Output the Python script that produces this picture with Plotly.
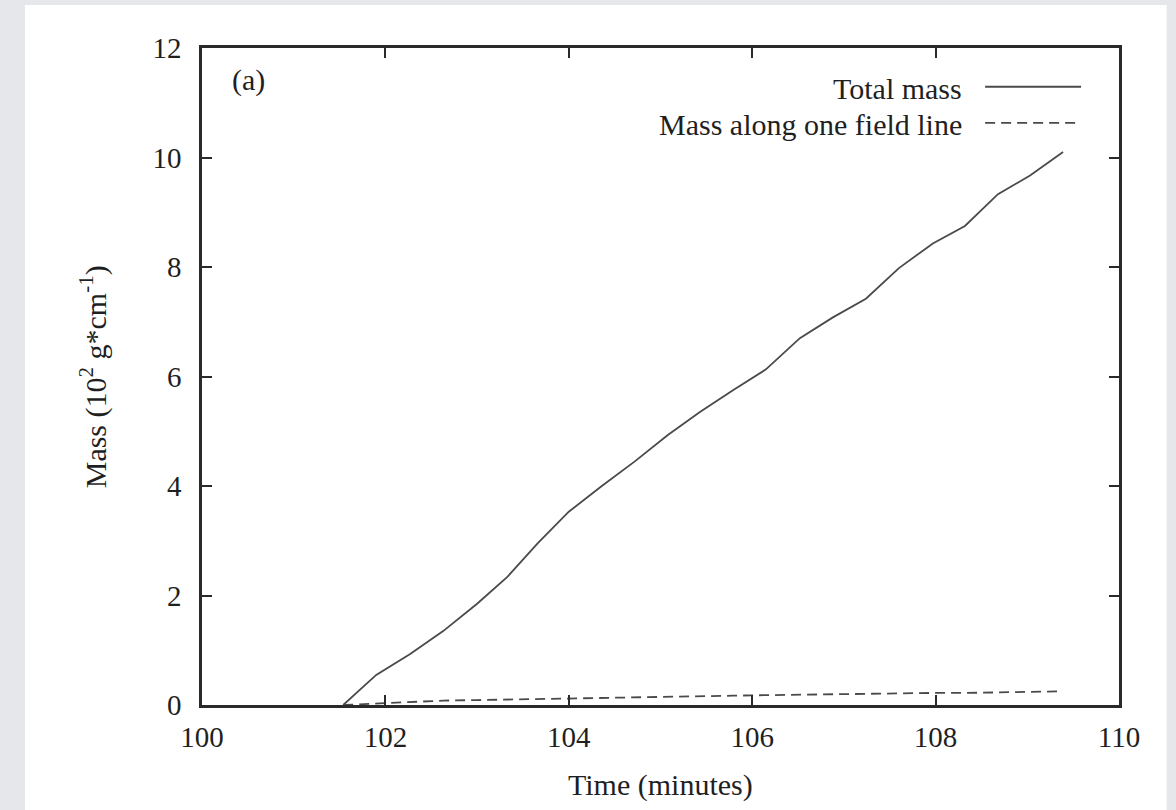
import plotly.graph_objects as go

# Time samples (minutes) and masses (10^2 g/cm)
time_min = [101.54, 101.90, 102.27, 102.63, 103.00, 103.33, 103.66, 104.00,
            104.36, 104.72, 105.08, 105.43, 105.79, 106.15, 106.52, 106.88,
            107.24, 107.60, 107.97, 108.32, 108.68, 109.03, 109.39]
total_mass = [0.00, 0.55, 0.93, 1.35, 1.85, 2.34, 2.95, 3.53,
              4.00, 4.45, 4.93, 5.35, 5.75, 6.13, 6.70, 7.08,
              7.42, 7.98, 8.43, 8.75, 9.33, 9.67, 10.10]
field_line_mass = [0.00, 0.03, 0.06, 0.08, 0.09, 0.10, 0.12, 0.13,
                   0.14, 0.15, 0.16, 0.17, 0.17, 0.18, 0.19, 0.19,
                   0.20, 0.21, 0.22, 0.22, 0.23, 0.24, 0.25]

series_names = ["Total mass", "Mass along one field line"]
x_ticks = [100, 102, 104, 106, 108, 110]
y_ticks = [0, 2, 4, 6, 8, 10, 12]

FONT = "Liberation Serif"
INK = "#1f1f1f"
LINE = "#4a4a4a"
AXIS = "#2a2a2a"

fig = go.Figure()
fig.add_trace(go.Scatter(x=time_min, y=total_mass, mode="lines",
                         name=series_names[0],
                         line=dict(color=LINE, width=1.8)))
fig.add_trace(go.Scatter(x=time_min, y=field_line_mass, mode="lines",
                         name=series_names[1],
                         line=dict(color=LINE, width=1.8, dash="10px,6px")))

axis_common = dict(showline=True, mirror="allticks", linecolor=AXIS, linewidth=2.5,
                   ticks="inside", ticklen=10, tickwidth=2, tickcolor=AXIS,
                   showgrid=False, zeroline=False,
                   tickfont=dict(family=FONT, size=29, color=INK))

fig.update_xaxes(range=[100, 110], tickvals=x_ticks,
                 ticktext=[str(v) for v in x_ticks],
                 ticklabelstandoff=4, **axis_common)
fig.update_yaxes(range=[0, 12], tickvals=y_ticks,
                 ticktext=[str(v) for v in y_ticks],
                 ticklabelstandoff=12, **axis_common)

# white page behind the plot
shapes = [dict(type="rect", xref="paper", yref="paper", layer="below",
               x0=-0.193, x1=1.052, y0=-0.2, y1=1.0654,
               fillcolor="white", line=dict(width=0))]

# key samples drawn to the right of their labels
key_rows = [(0.939, "solid"), (0.884, "10px,6px")]
annotations = []
for (yk, dash), name in zip(key_rows, series_names):
    annotations.append(dict(xref="paper", yref="paper", x=0.831, y=yk,
                            xanchor="right", yanchor="middle", showarrow=False,
                            text=name, font=dict(family=FONT, size=30, color=INK)))
    shapes.append(dict(type="line", xref="paper", yref="paper",
                       x0=0.854, x1=0.9586, y0=yk + 0.002, y1=yk + 0.002,
                       line=dict(color=LINE, width=1.8, dash=dash)))

annotations += [
    dict(xref="paper", yref="paper", x=0.0305, y=0.951, xanchor="left",
         yanchor="middle", showarrow=False, text="(a)",
         font=dict(family=FONT, size=30, color=INK)),
    dict(xref="paper", yref="paper", x=0.5, y=-0.1218, xanchor="center",
         yanchor="middle", showarrow=False, text="Time (minutes)",
         font=dict(family=FONT, size=30, color=INK)),
    dict(xref="paper", yref="paper", x=-0.118, y=0.5, xanchor="center",
         yanchor="middle", showarrow=False, textangle=-90,
         text="Mass (10<sup>2</sup> g*cm<sup>-1</sup>)",
         font=dict(family=FONT, size=30, color=INK)),
]

fig.update_layout(width=1176, height=810,
                  margin=dict(l=202, r=57, t=48, b=105),
                  paper_bgcolor="#e6e7ea", plot_bgcolor="white",
                  showlegend=False, shapes=shapes, annotations=annotations)

fig.write_html("out.html")
